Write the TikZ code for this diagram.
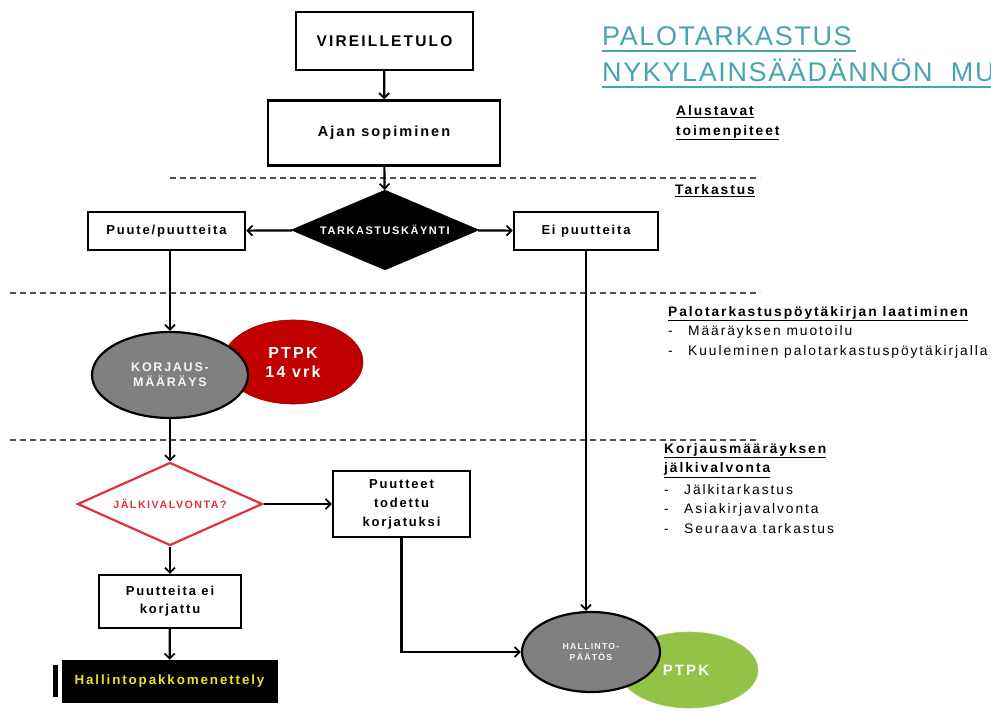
\documentclass[tikz,border=0pt]{standalone}
\usepackage{fontspec}
\setmainfont{Liberation Sans}[LetterSpace=14]
\newfontfamily\titlefont{Liberation Sans}[LetterSpace=6]
\usetikzlibrary{arrows.meta,shapes.geometric}
\definecolor{teal1}{RGB}{72,164,176}
\definecolor{darkred1}{RGB}{192,0,0}
\definecolor{green1}{RGB}{146,194,70}
\definecolor{redline}{RGB}{226,50,64}
\definecolor{gray1}{RGB}{128,128,128}
\definecolor{dashgray}{RGB}{80,80,80}
\definecolor{yellow1}{RGB}{230,230,40}
\begin{document}
\begin{tikzpicture}[x=1pt,y=-1pt,
  box/.style={draw=black,line width=2.4pt,fill=white,align=center,inner sep=1pt,font=\bfseries},
  arr/.style={line width=2.2pt,-{Straight Barb[length=5pt,width=10pt,line width=1.8pt]}},
  sep/.style={dashgray,line width=1.2pt,dash pattern=on 6pt off 4pt},
  lab/.style={anchor=north west,align=left,inner sep=0pt,font=\fontsize{13.8}{19.5}\selectfont}]
\useasboundingbox (0,0) rectangle (991,711);
% title
\begin{scope}
\clip (0,0) rectangle (991,711);
\node[anchor=base west,inner sep=0pt,text=teal1,font=\titlefont\fontsize{27}{27}\selectfont] (t1) at (602,46) {PALOTARKASTUS};
\node[anchor=base west,inner sep=0pt,text=teal1,font=\titlefont\fontsize{27}{27}\selectfont] (t2) at (602,82) {NYKYLAINSÄÄDÄNNÖN\ \ MU};
\draw[teal1,line width=2pt] (602,51) -- (856,51);
\draw[teal1,line width=2pt] (602,87) -- (991,87);
\end{scope}
% separators
\draw[sep] (170,178) -- (760,178);
\draw[sep] (10,293) -- (760,293);
\draw[sep] (10,440) -- (760,440);
% right labels
\node[lab,font=\bfseries\fontsize{13.8}{20}\selectfont] (l1) at (676,105) {\underline{Alustavat}\\\underline{toimenpiteet}};
\node[lab,font=\bfseries\fontsize{13.8}{20}\selectfont] (l2) at (675,184) {\underline{Tarkastus}};
\node[lab] (l3) at (668,306) {\textbf{\underline{Palotarkastuspöytäkirjan laatiminen}}\\
  \makebox[20pt][l]{-}Määräyksen muotoilu\\
  \makebox[20pt][l]{-}Kuuleminen palotarkastuspöytäkirjalla};
\node[lab] (l4) at (664,443) {\textbf{\underline{Korjausmääräyksen}}\\
  \textbf{\underline{jälkivalvonta}}\\[2pt]
  \makebox[20pt][l]{-}Jälkitarkastus\\
  \makebox[20pt][l]{-}Asiakirjavalvonta\\
  \makebox[20pt][l]{-}Seuraava tarkastus};
% flow nodes
\node[box,minimum width=177pt,minimum height=58pt,font=\bfseries\fontsize{15.5}{16}\selectfont] (v) at (384.5,41) {VIREILLETULO};
\node[box,minimum width=232pt,minimum height=65pt,font=\bfseries\fontsize{14.5}{15}\selectfont] (a) at (384,133) {Ajan sopiminen};
\node[diamond,aspect=2.35,fill=black,draw=black,minimum width=188pt,minimum height=80pt,inner sep=0pt,text=white,font=\bfseries\fontsize{11}{12}\selectfont] (tk) at (385,230) {TARKASTUSKÄYNTI};
\node[box,minimum width=157pt,minimum height=38pt,font=\bfseries\fontsize{13}{14}\selectfont] (pu) at (166.5,231) {Puute/puutteita};
\node[box,minimum width=144pt,minimum height=38pt,font=\bfseries\fontsize{13}{14}\selectfont] (ei) at (586,231) {Ei puutteita};
\node[ellipse,fill=darkred1,draw=darkred1!80!black,line width=0.6pt,minimum width=140pt,minimum height=84pt,inner sep=0pt,text=white,align=center,font=\bfseries\fontsize{16}{19}\selectfont] (pt1) at (293,362) {PTPK\\14 vrk};
\node[ellipse,fill=gray1,draw=black,line width=2.2pt,minimum width=156pt,minimum height=86pt,inner sep=0pt,text=white!92!gray,align=center,font=\bfseries\fontsize{12.5}{15}\selectfont] (km) at (170,375) {KORJAUS-\\MÄÄRÄYS};
\node[diamond,aspect=2.23,fill=white,draw=redline,line width=2.2pt,minimum width=185pt,minimum height=83pt,inner sep=0pt,text=redline,font=\bfseries\fontsize{10.7}{12}\selectfont] (jv) at (170,504) {JÄLKIVALVONTA?};
\node[box,minimum width=137pt,minimum height=66pt,font=\bfseries\fontsize{13}{19}\selectfont] (pt) at (401.5,504) {Puutteet\\todettu\\korjatuksi};
\node[box,minimum width=142pt,minimum height=53pt,font=\bfseries\fontsize{13}{18}\selectfont] (pek) at (170,601.5) {Puutteita ei\\korjattu};
\node[fill=black,minimum width=5pt,minimum height=32pt,inner sep=0pt] (bar) at (55.5,681) {};
\node[fill=black,draw=black,minimum width=215pt,minimum height=42pt,inner sep=0pt,text=yellow1,font=\bfseries\fontsize{13.4}{14}\selectfont] (hpk) at (169.5,681) {Hallintopakkomenettely};
\node[ellipse,fill=green1,draw=green1!80!white,line width=0.6pt,minimum width=138pt,minimum height=76pt,inner sep=0pt,text=white,font=\bfseries\fontsize{15}{16}\selectfont] (gp) at (689,670) {\hspace*{-6pt}PTPK};
\node[ellipse,fill=gray1,draw=black,line width=2.2pt,minimum width=138pt,minimum height=80pt,inner sep=0pt,text=white!92!gray,align=center,font=\bfseries\fontsize{8.75}{11}\selectfont] (hp) at (591,652) {HALLINTO-\\PÄÄTÖS};
% connectors
\draw[arr] (v) -- (a);
\draw[arr] (a) -- (tk);
\draw[arr] (tk) -- (pu);
\draw[arr] (tk) -- (ei);
\draw[arr] (pu.south -| km.north) -- (km.north);
\draw[arr] (km) -- (jv);
\draw[arr] (jv) -- (pt);
\draw[arr] (jv) -- (pek);
\draw[arr] (pek) -- (hpk);
\draw[arr] (pt.south) |- (hp.west);
\draw[arr] (ei.south) -- (ei.south |- hp.north);
\end{tikzpicture}
\end{document}
